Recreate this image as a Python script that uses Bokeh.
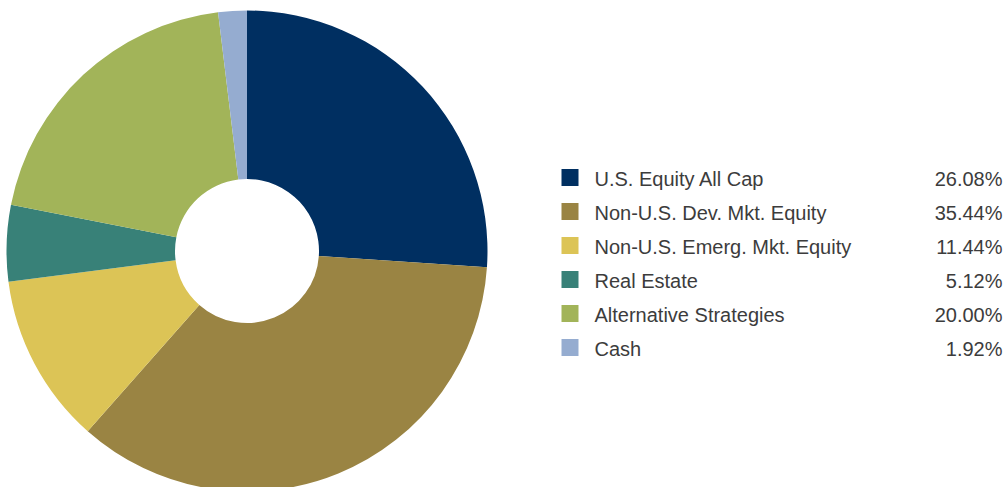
import numpy as np
from bokeh.plotting import figure
from bokeh.models import Range1d, ColumnDataSource
from bokeh.core.properties import value
from bokeh.embed import file_html
from bokeh.resources import INLINE

categories = ["U.S. Equity All Cap", "Non-U.S. Dev. Mkt. Equity", "Non-U.S. Emerg. Mkt. Equity",
              "Real Estate", "Alternative Strategies", "Cash"]
values = [26.08, 35.44, 11.44, 5.12, 20.00, 1.92]
labels = ["26.08%", "35.44%", "11.44%", "5.12%", "20.00%", "1.92%"]
colors = ["#002F61", "#9A8443", "#DCC456", "#388178", "#A2B459", "#95ACD0"]

W, H = 1004, 487
p = figure(width=W, height=H, output_backend="svg", toolbar_location=None,
           x_range=Range1d(0, W), y_range=Range1d(0, H),
           x_axis_location=None, y_axis_location=None, min_border=0,
           outline_line_color=None, background_fill_color="white")
p.grid.visible = False

vals = np.array(values)
frac = vals / vals.sum()
cum = np.concatenate([[0], np.cumsum(frac)])
start = np.pi / 2 - 2 * np.pi * cum[:-1]
end = np.pi / 2 - 2 * np.pi * cum[1:]

cx, cy = 246.5, H - 250.5
src = ColumnDataSource(dict(start=start, end=end, color=colors))
p.annular_wedge(x=cx, y=cy, inner_radius=72, outer_radius=240.5,
                start_angle="start", end_angle="end", direction="clock",
                fill_color="color", line_color=None, source=src)

n = len(categories)
row_y = [H - (178.5 + 34 * i) for i in range(n)]
sq_y = [H - (177.0 + 34 * i) for i in range(n)]
leg = ColumnDataSource(dict(cat=categories, lab=labels, color=colors, ty=row_y, sy=sq_y,
                            sx=[569.5] * n, tx=[594] * n, rx=[1002] * n))
p.rect(x="sx", y="sy", width=17, height=17, fill_color="color", line_color=None, source=leg)
p.text(x="tx", y="ty", text="cat", text_font=value("Liberation Sans"), text_font_size="20px",
       text_color="#3c3c3c", text_baseline="alphabetic", text_align="left", source=leg)
p.text(x="rx", y="ty", text="lab", text_font=value("Liberation Sans"), text_font_size="20px",
       text_color="#3c3c3c", text_baseline="alphabetic", text_align="right", source=leg)

open("out.html", "w").write(file_html(p, INLINE))
